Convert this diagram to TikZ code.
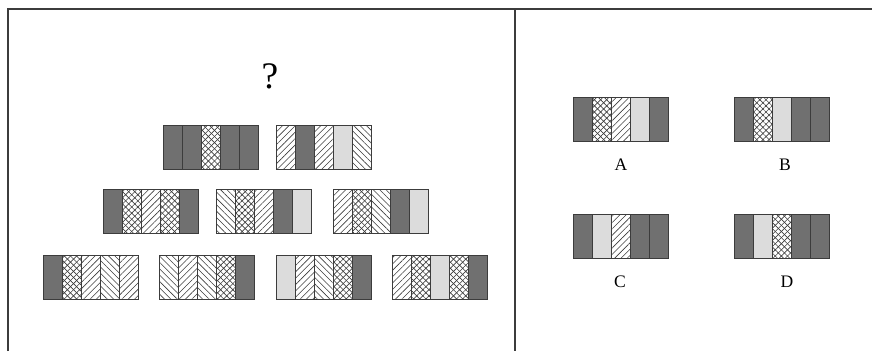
\documentclass[tikz,border=0pt]{standalone}
\usepackage{fontspec}
\setmainfont{Liberation Serif}
\usepackage{tikz}
\usetikzlibrary{patterns.meta}

\definecolor{darkstripe}{RGB}{112,112,112}
\definecolor{lightstripe}{RGB}{220,220,220}
\definecolor{framegray}{RGB}{60,60,60}

\tikzset{
	stripe/.style={draw=framegray,line width=0.5pt},
	blockframe/.style={draw=framegray,line width=0.8pt},
	dk/.style={fill=darkstripe},
	lt/.style={fill=lightstripe},
	ne/.style={pattern={Lines[angle=45,distance=1.35mm,line width=0.5pt]},pattern color=framegray},
	nw/.style={pattern={Lines[angle=-45,distance=1.35mm,line width=0.5pt]},pattern color=framegray},
	cr/.style={pattern={Lines[angle=45,distance=1.3mm,line width=0.55pt]},pattern color=framegray,
		postaction={pattern={Lines[angle=-45,distance=1.3mm,line width=0.55pt]},pattern color=framegray}},
	letter/.style={font=\fontsize{15}{15}\selectfont}
}

% one block of five stripes, top left corner at (#1,#2)
\newcommand{\stripblock}[3]{%
	\foreach \s [count=\i from 0] in {#3}
		\draw[stripe,\s] ({#1+19*\i},#2) rectangle ++(19,44);
	\draw[blockframe] (#1,#2) rectangle ++(95,44);
}

\begin{document}
\begin{tikzpicture}[x=0.3mm,y=-0.3mm]
	\useasboundingbox (0,0) rectangle (872,351);
	
	% frame
	\draw[framegray,line width=0.6mm] (8,351)--(8,9)--(872,9);
	\draw[framegray,line width=0.5mm] (515,9)--(515,351);
	
	% question
	\node (ask) at (270,76) {\fontsize{32}{32}\selectfont ?};
	
	\stripblock{163}{125}{dk,dk,cr,dk,dk}
	\stripblock{276}{125}{ne,dk,ne,lt,nw}
	
	\stripblock{103}{189}{dk,cr,ne,cr,dk}
	\stripblock{216}{189}{nw,cr,ne,dk,lt}
	\stripblock{333}{189}{ne,cr,nw,dk,lt}
	
	\stripblock{43}{255}{dk,cr,ne,nw,ne}
	\stripblock{159}{255}{nw,ne,nw,cr,dk}
	\stripblock{276}{255}{lt,ne,nw,cr,dk}
	\stripblock{392}{255}{ne,cr,lt,cr,dk}
	
	% answers
	\stripblock{573}{97}{dk,cr,ne,lt,dk}
	\stripblock{734}{97}{dk,cr,lt,dk,dk}
	\stripblock{573}{214}{dk,lt,ne,dk,dk}
	\stripblock{734}{214}{dk,lt,cr,dk,dk}
	
	\node[letter] (A) at (621,165) {A};
	\node[letter] (B) at (785,165) {B};
	\node[letter] (C) at (620,282) {C};
	\node[letter] (D) at (787,282) {D};
\end{tikzpicture}
\end{document}
